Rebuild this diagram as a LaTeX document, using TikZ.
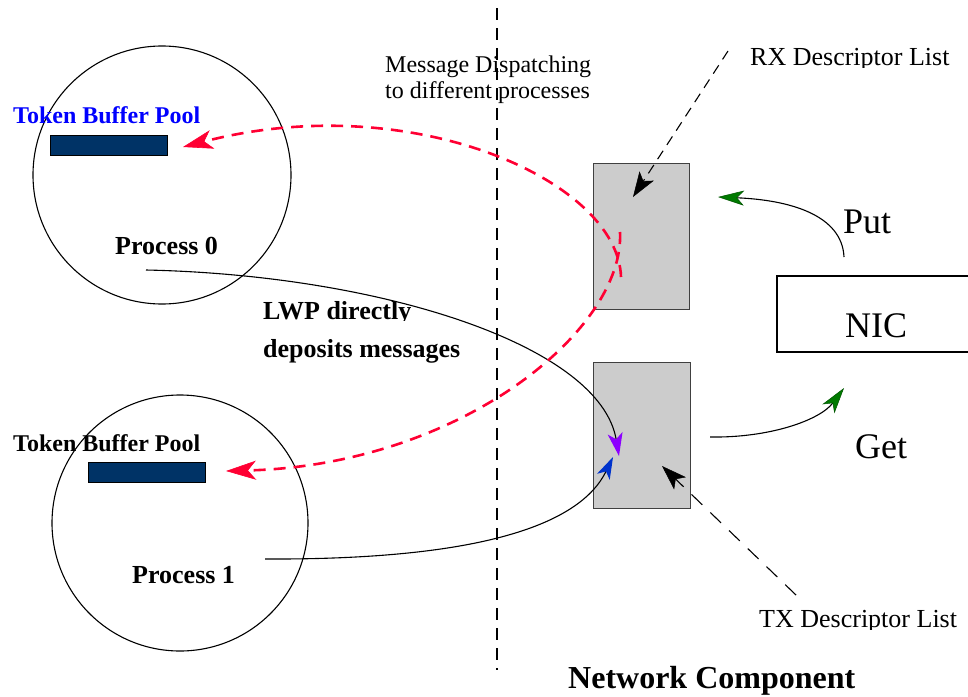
\documentclass[tikz,border=0pt]{standalone}
\usepackage{fontspec}
\setmainfont{Liberation Serif}
\usetikzlibrary{arrows.meta}
\definecolor{msgred}{HTML}{FF0033}
\definecolor{putgreen}{HTML}{007A00}
\definecolor{poolnavy}{HTML}{003366}
\definecolor{descgray}{HTML}{CCCCCC}
\definecolor{lwpviolet}{HTML}{8C00FF}
\definecolor{lwpblue}{HTML}{0033CC}
\definecolor{poolblue}{HTML}{0000FF}

\begin{document}
\begin{tikzpicture}[x=1pt,y=-1pt,
  proc/.style={circle,draw,line width=1.1pt,inner sep=0pt},
  pool/.style={draw,fill=poolnavy,line width=1pt,inner sep=0pt,
    minimum width=117pt,minimum height=20pt,anchor=north west},
  descbox/.style={draw=black!75,fill=descgray,line width=1.2pt,inner sep=0pt,anchor=north west},
  lbl/.style={inner sep=0pt,anchor=base west},
  small/.style={font=\fontsize{24}{28}\selectfont},
  mid/.style={font=\fontsize{26}{30}\selectfont},
  midbold/.style={font=\bfseries\fontsize{26}{30}\selectfont},
  poolbold/.style={font=\bfseries\fontsize{24}{28}\selectfont},
  large/.style={font=\fontsize{36}{40}\selectfont},
  dispatch/.style={draw=msgred,line width=2.6pt,dash pattern=on 12pt off 8pt,
    -{Stealth[length=30pt,width=19pt,inset=8pt,color=msgred,fill=msgred,line width=0.6pt]}},
  deposit/.style={draw,line width=1.1pt},
  leader/.style={draw,line width=1.1pt},
  blacktip/.style={-{Stealth[length=25pt,width=17pt,inset=6pt,fill=black,line width=0.5pt]}},
  greentip/.style={-{Stealth[length=26pt,width=15pt,inset=7pt,color=putgreen!70!black,fill=putgreen,line width=0.5pt]}}
]
\useasboundingbox (0,0) rectangle (968,696);

% processes with their token buffer pools
\node[proc,minimum size=258pt] (p0) at (162,175) {};
\node[proc,minimum size=256pt] (p1) at (180,523) {};
\node[pool] (tb0) at (50,135) {};
\node[pool] (tb1) at (88,462) {};
\node[lbl,poolbold,text=poolblue] (tb0lbl) at (13,123) {Token Buffer Pool};
\node[lbl,poolbold] (tb1lbl) at (13,451) {Token Buffer Pool};
\node[lbl,midbold] (p0lbl) at (115,254) {Process 0};
\node[lbl,midbold] (p1lbl) at (132,583) {Process 1};

% descriptor lists
\node[descbox,minimum width=96pt,minimum height=146pt] (rx) at (593,163) {};
\node[descbox,minimum width=97pt,minimum height=146pt] (tx) at (593,362) {};

% NIC, open on its right side
\coordinate (nicTR) at (968,276);
\coordinate (nicTL) at (777,276);
\coordinate (nicBL) at (777,352);
\coordinate (nicBR) at (968,352);
\draw[line width=1.1pt] (nicTR) -- (nicTL) -- (nicBL) -- (nicBR);
\node[lbl,large] (nic) at (845,337) {NIC};
\node[lbl,large] (put) at (843,233) {Put};
\node[lbl,large] (get) at (855,458) {Get};

% labels
\node[lbl,small] (disp1) at (385,72) {Message Dispatching};
\node[lbl,small] (disp2) at (385,98) {to different processes};
\begin{scope}
  \clip (740,30) rectangle (968,67);
  \node[lbl,mid] (rxlbl) at (750,65) {RX Descriptor List};
\end{scope}
\begin{scope}
  \clip (740,600) rectangle (968,629);
  \node[lbl,mid] (txlbl) at (759,627) {TX Descriptor List};
\end{scope}
\begin{scope}
  \clip (250,280) rectangle (480,320.5);
  \node[lbl,midbold] (lwp1) at (263,319) {LWP directly};
\end{scope}
\node[lbl,midbold] (lwp2) at (263,357) {deposits messages};
\node[lbl,font=\bfseries\fontsize{32}{36}\selectfont] (netlbl) at (568,688) {Network Component};

% boundary between processes and network component
\coordinate (divtop) at (497,8);
\coordinate (divbot) at (497,670);
\draw[line width=2.3pt,dash pattern=on 12pt off 8pt] (divtop) -- (divbot);

% end points of the connectors
\coordinate (rxsrc) at (728,51);
\coordinate (rxtip) at (633,197);
\coordinate (txsrc) at (796,595);
\coordinate (txtip) at (662,466);
\coordinate (putsrc) at (844,257);
\coordinate (puttip) at (718,197);
\coordinate (getsrc) at (710,437);
\coordinate (gettip) at (844,388);
\coordinate (p0src) at (146,270);
\coordinate (p0tip) at (619,456);
\coordinate (p1src) at (265,559);
\coordinate (p1tip) at (613,457);
\coordinate (upsrc) at (621,277);
\coordinate (uptip) at (183,147);
\coordinate (lowsrc) at (620,232);
\coordinate (lowtip) at (226,471);

% descriptor list pointers
\draw[leader,blacktip,dash pattern=on 10pt off 7pt] (rxsrc) -- (rxtip);
\draw[leader,blacktip,dash pattern=on 15pt off 11pt] (txsrc) -- (txtip);

% Put and Get between NIC and the descriptor lists
\draw[leader,greentip] (putsrc) .. controls (842,215) and (790,200) .. (puttip);
\draw[leader,greentip] (getsrc) .. controls (770,438) and (820,420) .. (gettip);

% LWP deposits messages
\draw[deposit,-{Stealth[length=23pt,width=15pt,inset=6pt,color=lwpviolet,fill=lwpviolet]}]
  (p0src) .. controls (380,275) and (600,345) .. (p0tip);
\draw[deposit,-{Stealth[length=22pt,width=14pt,inset=6pt,color=lwpblue,fill=lwpblue]}]
  (p1src) .. controls (480,560) and (580,525) .. (p1tip);

% message dispatching to the token buffer pools
\draw[dispatch] (upsrc) .. controls (618,180) and (410,88) .. (uptip);
\draw[dispatch] (lowsrc) .. controls (625,330) and (460,465) .. (lowtip);
\end{tikzpicture}
\end{document}
